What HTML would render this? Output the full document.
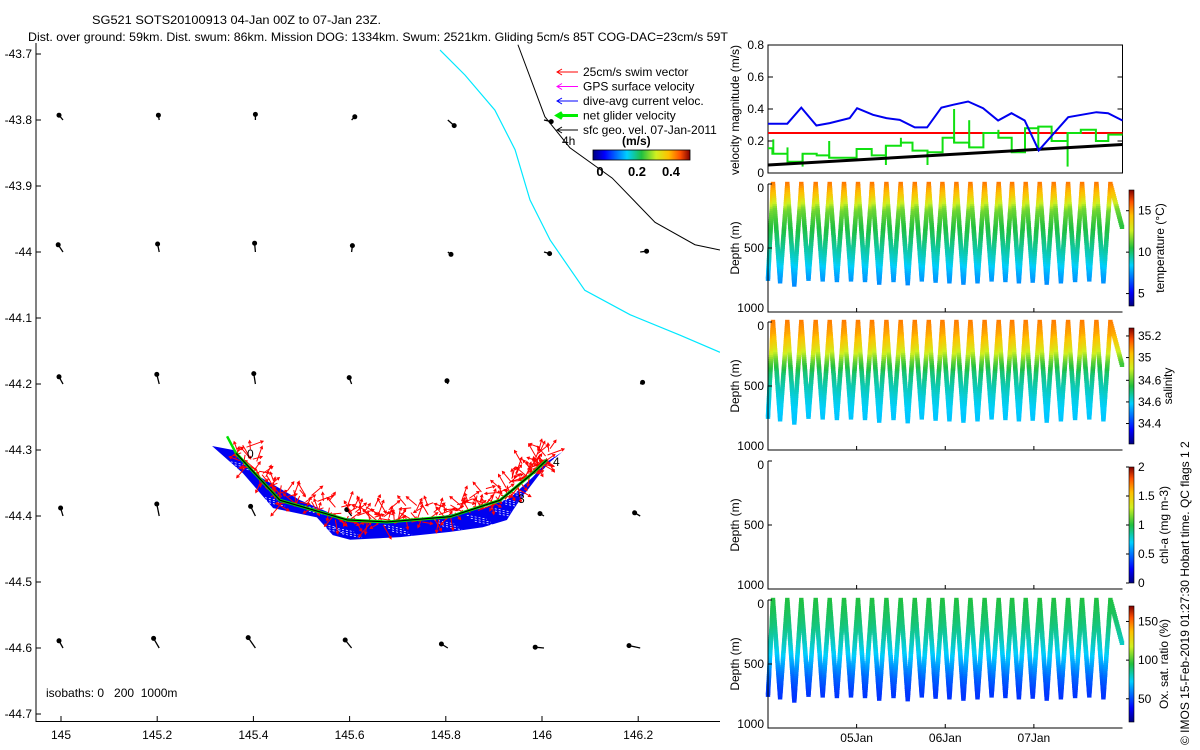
<!DOCTYPE html>
<html><head><meta charset="utf-8"><style>
body{margin:0;background:#fff}
svg{display:block;font-family:"Liberation Sans",sans-serif;font-size:12px}
</style></head><body>
<svg id="s" width="1200" height="750" viewBox="0 0 1200 750">
<defs>
<linearGradient id="jetH" x1="0" x2="1" y1="0" y2="0">
<stop offset="0" stop-color="#00007f"/><stop offset="0.12" stop-color="#0000ff"/><stop offset="0.35" stop-color="#00d0ff"/><stop offset="0.5" stop-color="#20c040"/><stop offset="0.65" stop-color="#d0f020"/><stop offset="0.78" stop-color="#ffc000"/><stop offset="0.9" stop-color="#ff5000"/><stop offset="1" stop-color="#800000"/></linearGradient>
<linearGradient id="jetV" x1="0" x2="0" y1="1" y2="0">
<stop offset="0" stop-color="#00007f"/><stop offset="0.12" stop-color="#0000ff"/><stop offset="0.35" stop-color="#00d0ff"/><stop offset="0.5" stop-color="#20c040"/><stop offset="0.65" stop-color="#d0f020"/><stop offset="0.78" stop-color="#ffc000"/><stop offset="0.9" stop-color="#ff5000"/><stop offset="1" stop-color="#800000"/></linearGradient>
<clipPath id="mapclip"><rect x="36" y="43" width="684" height="678"/></clipPath>
<clipPath id="pclip"><rect x="768" y="45" width="355" height="128"/></clipPath>
</defs>
<text x="92" y="24" textLength="289" lengthAdjust="spacingAndGlyphs">SG521 SOTS20100913 04-Jan 00Z to 07-Jan 23Z.</text>
<text x="28" y="41" textLength="700" lengthAdjust="spacingAndGlyphs">Dist. over ground: 59km. Dist. swum: 86km. Mission DOG: 1334km. Swum: 2521km. Gliding 5cm/s 85T COG-DAC=23cm/s 59T</text>
<g id="map"></g>
<g id="vel"></g>
<g id="sec"></g>
<text transform="translate(1189,745) rotate(-90)">© IMOS 15-Feb-2019 01:27:30 Hobart time. QC flags 1 2</text>
</svg>
<script>
// ---------- map data ----------
const mapLonTicks=[145,145.2,145.4,145.6,145.8,146,146.2];
const mapLatTicks=[-43.7,-43.8,-43.9,-44,-44.1,-44.2,-44.3,-44.4,-44.5,-44.6,-44.7];
const gridLons=[145,145.2,145.4,145.6,145.8,146,146.2,146.4];
const gridLats=[-43.8,-44,-44.2,-44.4,-44.6];
const geoU=[[-5,-1,0,4,8,9,0,0],[-6,-2,-1,1,4,7,8,0],[-5,-3,-2,-3,-1,0,3,0],[-3,-3,-6,-6,0,-5,-7,0],[-5,-7,-9,-8,-8,-11,-14,-10]];
const geoV=[[6,6,7,4,-7,-2,0,0],[9,10,11,8,-3,-2,1,0],[9,12,13,8,4,0,2,0],[10,15,12,8,0,3,4,0],[9,12,13,10,5,1,3,3]];
const trackLon=[145.364,145.455,145.595,145.678,145.809,145.913,145.981,146.010];
const trackLat=[-44.305,-44.376,-44.406,-44.409,-44.401,-44.376,-44.335,-44.315];
const bandLowLon=[145.314,145.378,145.441,145.532,145.565,145.601,145.705,145.809,145.877,145.927,145.940,145.954,146.002,146.017,146.042];
const bandLowLat=[-44.294,-44.335,-44.388,-44.402,-44.429,-44.436,-44.432,-44.424,-44.417,-44.406,-44.391,-44.376,-44.330,-44.318,-44.303];
const bandUpLon=[145.358,145.414,145.497,145.580,145.678,145.773,145.877,145.933,145.981,146.010];
const bandUpLat=[-44.300,-44.341,-44.376,-44.402,-44.409,-44.403,-44.388,-44.373,-44.341,-44.318];
const iso200Lon=[145.788,145.840,145.902,145.944,145.975,146.017,146.089,146.183,146.287,146.370];
const iso200Lat=[-43.694,-43.732,-43.785,-43.845,-43.921,-43.982,-44.058,-44.095,-44.126,-44.152];
const iso1000Lon=[145.950,146.006,146.058,146.146,146.235,146.318,146.370];
const iso1000Lat=[-43.686,-43.795,-43.842,-43.888,-43.955,-43.989,-43.997];
const swimAng=[40,110,300,75,200,20,160,260,95,330,130,55,230,15,280,185,70,310,140,245,65,350,120,210,35];
const swimLen=[18,12,20,15,10,22,14,17,11,19,16,13,21,12,18,15,20,11,17,14,16,13,19,12,15];
// ---------- velocity panel data ----------
const velTicks=[0,0.2,0.4,0.6,0.8];
const dacT=[0,.218,.376,.546,.696,.922,1.005,1.185,1.336,1.486,1.656,1.795,1.957,2.088,2.258,2.427,2.596,2.747,2.897,3.055,3.387,3.537,3.706,3.838,4.0];
const dacV=[.308,.308,.409,.297,.312,.343,.405,.364,.343,.332,.285,.285,.409,.426,.447,.405,.328,.374,.328,.141,.349,.364,.380,.374,.328];
const swimV=0.25;
const geoT=[0,4];const geoVmag=[0.05,0.178];
const netT=[0,.05,.22,.39,.55,.69,1.0,1.17,1.33,1.5,1.63,1.8,1.97,2.1,2.27,2.43,2.6,2.75,2.9,3.05,3.2,3.38,3.53,3.7,3.84,4.0];
const netV=[.155,.12,.07,.12,.11,.095,.15,.11,.17,.19,.14,.13,.22,.19,.16,.25,.22,.13,.28,.29,.2,.25,.27,.2,.24];
const spikeT=[.06,.22,.39,.69,1.33,1.5,1.8,2.1,2.27,2.6,3.05,3.38];
const spikeV=[.21,.16,.04,.2,.05,.22,.05,.4,.33,.27,.15,.04];
// ---------- section data ----------
const dayTicks=[1,2,3];const dayLabels=['05Jan','06Jan','07Jan'];
const surfT=[0.056,0.218,0.376,0.538,0.696,0.858,1.016,1.174,1.336,1.497,1.656,1.814,1.968,2.126,2.284,2.444,2.603,2.754,2.908,3.066,3.224,3.386,3.544,3.706,3.864];
const bottomD=[760,785,740,745,750,745,750,770,750,775,745,755,760,770,760,745,750,760,755,770,760,750,745,760,750];
const startDepth=740,endDepth=350;
const profDepth=[0,100,200,300,400,500,600,700,800];
const tempProf=[15.5,14,11.5,10.8,10.2,9.5,8.8,7.8,7.2];
const salProf=[35.15,35.1,35.0,34.85,34.75,34.7,34.66,34.63,34.62];
const oxyProf=[95,92,88,82,75,65,55,48,45];
const tempRange=[3.5,17.5],salRange=[34.28,35.3],oxyRange=[20,170],chlRange=[0,2];

const NS='http://www.w3.org/2000/svg';
function mk(p,t,a){const e=document.createElementNS(NS,t);for(const k in a)e.setAttribute(k,a[k]);p.appendChild(e);return e;}
function txt(p,x,y,s,anchor){const e=mk(p,'text',{x:x,y:y,'text-anchor':anchor||'start'});e.textContent=s;return e;}
// ---------- map ----------
const mx=lon=>61+(lon-145)*481, my=lat=>648+(-44.6-lat)*660;
const M=document.getElementById('map');
const mapAx=mk(M,'path',{d:'M36,43V721.5H720',fill:'none',stroke:'#000'});

mapLonTicks.forEach(v=>{mk(M,'line',{x1:mx(v),x2:mx(v),y1:721.5,y2:716,stroke:'#000'});const t=txt(M,mx(v),739,String(v),'middle');});
mapLatTicks.forEach(v=>{mk(M,'line',{x1:36,x2:41,y1:my(v),y2:my(v),stroke:'#000'});const t=txt(M,32,my(v)+4,String(v),'end');});
const MC=mk(M,'g',{'clip-path':'url(#mapclip)'});
function poly(lons,lats,attrs,name){const e=mk(MC,'polyline',Object.assign({points:lons.map((l,i)=>mx(l)+','+my(lats[i])).join(' '),fill:'none'},attrs));return e;}
poly(iso200Lon,iso200Lat,{stroke:'#00e8ff','stroke-width':1.2},'isobath-200m');
poly(iso1000Lon,iso1000Lat,{stroke:'#000','stroke-width':1},'isobath-1000m');
gridLats.forEach((la,r)=>gridLons.forEach((lo,c)=>{const u=geoU[r][c],v=geoV[r][c];if(!u&&!v)return;const x=mx(lo)+2,y=my(la);const hx=x+u*0.8,hy=y-v*0.8;
 const g=mk(MC,'g',{});
 mk(g,'line',{x1:x,y1:y,x2:hx,y2:hy,stroke:'#000','stroke-width':1.3});mk(g,'circle',{cx:hx,cy:hy,r:2.5,fill:'#000'});}));
// blue band
const bandPts=[[bandLowLon[0],bandLowLat[0]]].concat(bandUpLon.map((l,i)=>[l,bandUpLat[i]]),[[bandLowLon[14],bandLowLat[14]]],bandLowLon.slice(0).reverse().map((l,i)=>[l,bandLowLat[14-i]]));
const band=mk(MC,'polygon',{points:bandPts.map(p=>mx(p[0])+','+my(p[1])).join(' '),fill:'#0000f0'});

for(let i=1;i<bandLowLon.length-1;i++){for(let k=0;k<3;k++){const l=mk(MC,'line',{x1:mx(bandLowLon[i])-16+k*4,y1:my(bandLowLat[i])-12+k*3,x2:mx(bandLowLon[i])+4+k*4,y2:my(bandLowLat[i])-8+k*3,stroke:'#fff','stroke-width':0.7,'stroke-dasharray':'2 2'});}}
// red swim vectors
const RG=mk(MC,'g',{stroke:'#f00','stroke-width':1});
const NPER=34;
for(let i=0;i<trackLon.length-1;i++){for(let k=0;k<NPER;k++){const f=k/NPER;const lo=trackLon[i]+(trackLon[i+1]-trackLon[i])*f,la=trackLat[i]+(trackLat[i+1]-trackLat[i])*f;const j=(i*NPER+k)%swimAng.length;const a=swimAng[j]*Math.PI/180,L=swimLen[j]*0.8;const x=mx(lo)+((k%3)-1)*4,y=my(la)-((k*7)%19)+3;
 const x2=x+L*Math.cos(a),y2=y-L*Math.sin(a);
 const ln=mk(RG,'path',{d:`M${x.toFixed(1)},${y.toFixed(1)}L${x2.toFixed(1)},${y2.toFixed(1)}M${(x2-3*Math.cos(a-0.5)).toFixed(1)},${(y2+3*Math.sin(a-0.5)).toFixed(1)}L${x2.toFixed(1)},${y2.toFixed(1)}L${(x2-3*Math.cos(a+0.5)).toFixed(1)},${(y2+3*Math.sin(a+0.5)).toFixed(1)}`,fill:'none'});}}
poly(trackLon,trackLat,{stroke:'#00e000','stroke-width':3},'net-glider-track');
poly(trackLon,trackLat,{stroke:'#000','stroke-width':1.2},'glider-track');
const ga=mk(MC,'line',{x1:mx(trackLon[0]),y1:my(trackLat[0]),x2:mx(trackLon[0])-9,y2:my(trackLat[0])-17,stroke:'#00e000','stroke-width':2.5});
txt(MC,247,458,'0');
txt(MC,553,466,'4');
txt(MC,518,503,'3');
const iso=txt(M,46,697,'isobaths: 0   200  1000m');iso.setAttribute('style','white-space:pre');
// legend
const LG=mk(M,'g',{});
const legItems=[['25cm/s swim vector','#f00',1],['GPS surface velocity','#f0f',1],['dive-avg current veloc.','#00f',1],['net glider velocity','#0e0',3],['sfc geo. vel. 07-Jan-2011','#000',1]];
legItems.forEach((it,i)=>{const y=72+i*14.5;const g=mk(LG,'g',{});
 mk(g,'line',{x1:557,x2:578,y1:y,y2:y,stroke:it[1],'stroke-width':it[2]});mk(g,'path',{d:`M562,${y-3}L557,${y}L562,${y+3}`,fill:'none',stroke:it[1],'stroke-width':it[2]});txt(g,583,y+4,it[0]);});
txt(M,562,145,'4h');
const un=txt(M,622,145,'(m/s)');un.setAttribute('font-weight','bold');
const cb=mk(M,'rect',{x:593,y:150,width:97,height:10,fill:'url(#jetH)',stroke:'#000','stroke-width':0.8});
[['0',600],['0.2',637],['0.4',671]].forEach(a=>{const t=txt(M,a[1],176,a[0],'middle');t.setAttribute('font-weight','bold');t.setAttribute('font-size','13');});

// ---------- velocity panel ----------
const X0=768,X1=1122.5;const tx=t=>X0+t*(X1-X0)/4;
const vy=v=>173-v*160;
const V=document.getElementById('vel');
const vb=mk(V,'rect',{x:X0,y:45,width:X1-X0,height:128,fill:'none',stroke:'#000'});
velTicks.forEach(v=>{mk(V,'line',{x1:X0,x2:X0+5,y1:vy(v),y2:vy(v),stroke:'#000'});mk(V,'line',{x1:X1-5,x2:X1,y1:vy(v),y2:vy(v),stroke:'#000'});const t=txt(V,X0-4,vy(v)+4,String(v),'end');});
const vt=txt(V,0,0,'velocity magnitude (m/s)','middle');vt.setAttribute('transform','translate(739,110) rotate(-90)');
const VC=mk(V,'g',{'clip-path':'url(#pclip)'});
function vline(pts,attrs,name){const e=mk(VC,'polyline',Object.assign({points:pts.map(p=>p[0].toFixed(1)+','+p[1].toFixed(1)).join(' '),fill:'none'},attrs));}
vline([[tx(0),vy(swimV)],[tx(4),vy(swimV)]],{stroke:'#f00','stroke-width':2},'swim-speed-line');
const np=[];netV.forEach((v,i)=>{np.push([tx(netT[i]),vy(v)]);np.push([tx(netT[i+1]),vy(v)]);});
vline(np,{stroke:'#10e010','stroke-width':2},'net-velocity-line');
spikeT.forEach((t,i)=>{const k=netT.findIndex(q=>q>t)-1;vline([[tx(t),vy(netV[Math.max(0,k)])],[tx(t),vy(spikeV[i])]],{stroke:'#10e010','stroke-width':2},'net-velocity-spike');});
vline(geoT.map((t,i)=>[tx(t),vy(geoVmag[i])]),{stroke:'#000','stroke-width':3},'geostrophic-speed-line');
vline(dacT.map((t,i)=>[tx(t),vy(dacV[i])]),{stroke:'#0000f0','stroke-width':2},'dive-avg-current-line');

// ---------- sections ----------
const S=document.getElementById('sec');
const panels=[{top:184,name:'temperature',prof:tempProf,range:tempRange,label:'temperature (°C)',ticks:[5,10,15],tl:['5','10','15']},
 {top:322,name:'salinity',prof:salProf,range:salRange,label:'salinity',ticks:[35.23,35.04,34.84,34.65,34.46],tl:['35.2','35','34.6','34.6','34.4']},
 {top:461,name:'chlorophyll',prof:null,range:chlRange,label:'chl-a (mg m-3)',ticks:[0,0.5,1,1.5,2],tl:['0','0.5','1','1.5','2']},
 {top:600,name:'oxygen',prof:oxyProf,range:oxyRange,label:'Ox. sat. ratio (%)',ticks:[50,100,150],tl:['50','100','150']}];
function jet(f){f=Math.max(0,Math.min(1,f));const st=[[0,0,0,127],[.12,0,0,255],[.35,0,208,255],[.5,32,192,64],[.65,208,240,32],[.78,255,192,0],[.9,255,80,0],[1,128,0,0]];for(let i=1;i<st.length;i++){if(f<=st[i][0]){const a=st[i-1],b=st[i],u=(f-a[0])/(b[0]-a[0]);return `rgb(${Math.round(a[1]+u*(b[1]-a[1]))},${Math.round(a[2]+u*(b[2]-a[2]))},${Math.round(a[3]+u*(b[3]-a[3]))})`;}}}
function interp(d,prof){for(let i=1;i<profDepth.length;i++){if(d<=profDepth[i]){const u=(d-profDepth[i-1])/(profDepth[i]-profDepth[i-1]);return prof[i-1]+u*(prof[i]-prof[i-1]);}}return prof[prof.length-1];}
const path=[[0,startDepth]];surfT.forEach((t,i)=>{path.push([t,0]);const nt=i<surfT.length-1?surfT[i+1]:4;const bt=(t+nt)/2;if(i<surfT.length-1)path.push([bt,bottomD[i]]);else path.push([4,endDepth]);});
panels.forEach((P,pi)=>{const dy=d=>P.top+d*0.128;const g=mk(S,'g',{});
 if(P.prof){const sg=mk(g,'g',{});
  for(let i=0;i<path.length-1;i++){const a=path[i],b=path[i+1];const n=Math.max(2,Math.round(Math.abs(b[1]-a[1])/16));for(let k=0;k<n;k++){const u=k/n;const t=a[0]+u*(b[0]-a[0]),d=a[1]+u*(b[1]-a[1]);const val=interp(d,P.prof);const f=(val-P.range[0])/(P.range[1]-P.range[0]);
   const c=mk(sg,'rect',{x:(tx(t)-2.2).toFixed(1),y:(dy(d)-2.2).toFixed(1),width:4.4,height:4.4,fill:jet(f)});}}}
 mk(g,'path',{d:`M${X0},${P.top}V${P.top+128}H${X1}`,fill:'none',stroke:'#000'});
 [0,500,1000].forEach(d=>{mk(g,'line',{x1:X0,x2:X0+4,y1:dy(d),y2:dy(d),stroke:'#000'});const t=txt(g,X0-4,dy(d)+(d==0?8:d==1000?0:4),String(d),'end');});
 const yt=txt(g,0,0,'Depth (m)','middle');yt.setAttribute('transform',`translate(739,${P.top+64}) rotate(-90)`);
 dayTicks.forEach(d=>mk(g,'line',{x1:tx(d),x2:tx(d),y1:P.top+128,y2:P.top+124,stroke:'#000'}));
 const cy0=P.top+6,ch=116;const cbr=mk(g,'rect',{x:1129,y:cy0,width:5,height:ch,fill:'url(#jetV)',stroke:'#000','stroke-width':0.6});
 P.ticks.forEach((v,i)=>{const y=cy0+ch-(v-P.range[0])/(P.range[1]-P.range[0])*ch;mk(g,'line',{x1:1126,x2:1129,y1:y,y2:y,stroke:'#000'});if(P.tl[i]){const t=txt(g,1138,y+4,P.tl[i]);}});
 const cl=txt(g,0,0,P.label,'middle');cl.setAttribute('transform',`translate(${pi==2||pi==3?1168:1164},${P.top+64}) rotate(-90)`);
 if(pi==1)cl.setAttribute('transform',`translate(1172,${P.top+64}) rotate(-90)`);
 if(pi==3)dayTicks.forEach((d,i)=>{const t=txt(g,tx(d),742,dayLabels[i],'middle');});
});
</script>
</body></html>
